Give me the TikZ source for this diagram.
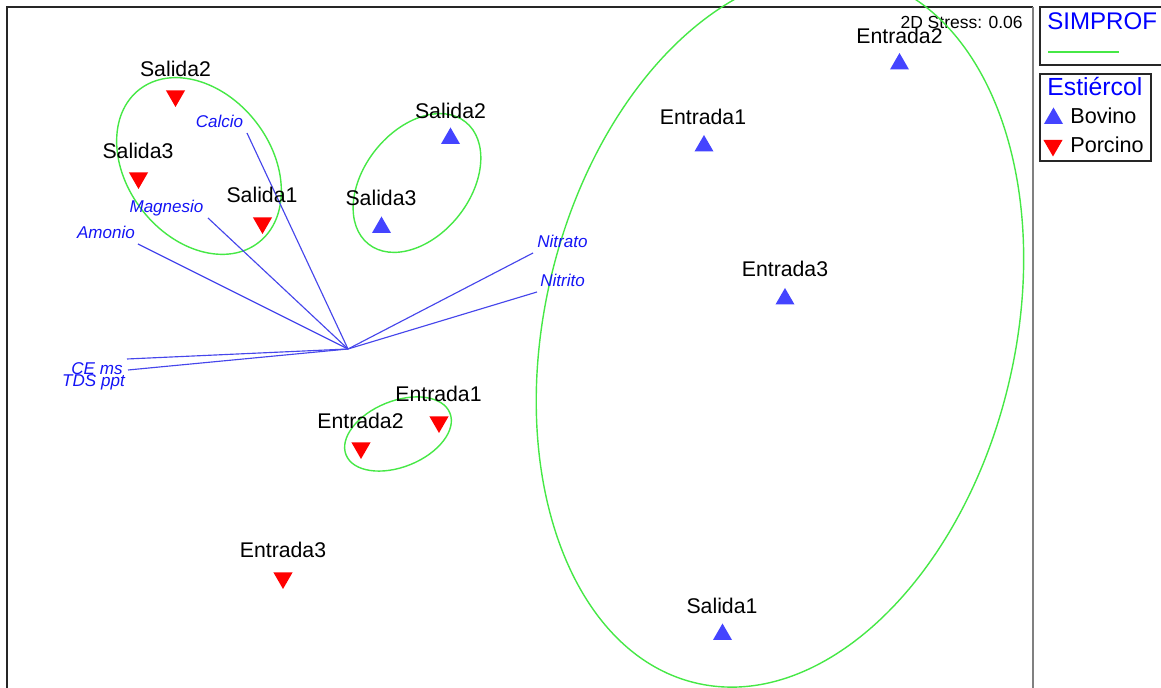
\documentclass[tikz,border=0pt]{standalone}
\usepackage{fontspec}
\setmainfont{Liberation Sans}
\usepackage{tikz}
\usetikzlibrary{shapes.geometric}
\definecolor{bovblue}{RGB}{68,68,255}
\definecolor{simgreen}{RGB}{70,232,70}
\definecolor{vecblue}{RGB}{70,70,235}
\definecolor{labblue}{RGB}{20,20,245}

\begin{document}
\begin{tikzpicture}[x=0.02cm,y=-0.02cm,
  samp/.style={inner sep=0pt,text height=1.38ex,text depth=0pt,font=\fontsize{12.1}{14}\selectfont},
  var/.style={inner sep=0pt,text height=1.38ex,text depth=0pt,text=labblue,font=\fontsize{9.7}{12}\selectfont\itshape},
  bov/.style={regular polygon,regular polygon sides=3,fill=bovblue,inner sep=0pt,minimum size=0.44cm},
  por/.style={bov,fill=red,shape border rotate=180},
  vec/.style={draw=vecblue,line width=0.65pt},
  simprof/.style={draw=simgreen,line width=0.8pt},
  frame/.style={draw=black!85,line width=0.6pt} ]
  \useasboundingbox (0,0) rectangle (1161,688);
  \clip (0,0) rectangle (1161,688);

  % plot frame
  \draw[frame] (7,700) -- (7,7) -- (1033,7);
  \draw[gray,line width=1.1pt] (1033,7) -- (1033,700);
  \node[anchor=east,inner sep=0pt,text height=1.38ex,text depth=0pt,font=\fontsize{9.95}{12}\selectfont] (stress) at (1023,22.5) {2D Stress: 0.06};

  % SIMPROF groups
  \coordinate (g1) at (780,330);
  \coordinate (g2) at (199,166);
  \coordinate (g3) at (417,183);
  \coordinate (g4) at (398,434);
  \draw[simprof,rotate around={-13.5:(g1)}] (g1) ellipse [x radius=4.7cm,y radius=7.26cm];
  \draw[simprof,rotate around={-52:(g2)}] (g2) ellipse [x radius=1.94cm,y radius=1.44cm];
  \draw[simprof,rotate around={51.5:(g3)}] (g3) ellipse [x radius=1.56cm,y radius=1.06cm];
  \draw[simprof,rotate around={22:(g4)}] (g4) ellipse [x radius=1.12cm,y radius=0.66cm];

  % vectors
  \coordinate (o) at (348,349);
  \coordinate (calcio-e) at (247,133);
  \coordinate (magnesio-e) at (208,218);
  \coordinate (amonio-e) at (138,244);
  \coordinate (ce-e) at (127,359);
  \coordinate (tds-e) at (128,370);
  \coordinate (nitrato-e) at (533,253);
  \coordinate (nitrito-e) at (537,292);
  \draw[vec] (o) -- (calcio-e);
  \draw[vec] (o) -- (magnesio-e);
  \draw[vec] (o) -- (amonio-e);
  \draw[vec] (o) -- (ce-e);
  \draw[vec] (o) -- (tds-e);
  \draw[vec] (o) -- (nitrato-e);
  \draw[vec] (o) -- (nitrito-e);
  \node[var] (calcio) at (219.5,121.5) {Calcio};
  \node[var] (magnesio) at (166.5,206) {Magnesio};
  \node[var] (amonio) at (106,232.5) {Amonio};
  \node[var] (ce) at (97,368) {CE ms};
  \node[var] (tds) at (93.5,380) {TDS ppt};
  \node[var] (nitrato) at (562.5,241.5) {Nitrato};
  \node[var] (nitrito) at (562.5,280.5) {Nitrito};

  % Porcino samples
  \node[por] (p-s2) at (175.5,96) {};
  \node[por] (p-s3) at (138.5,178) {};
  \node[por] (p-s1) at (262.5,223) {};
  \node[por] (p-e1) at (439,422) {};
  \node[por] (p-e2) at (361,448) {};
  \node[por] (p-e3) at (283,578) {};
  \node[samp] (p-s2l) at (175.5,70) {Salida2};
  \node[samp] (p-s3l) at (138,152) {Salida3};
  \node[samp] (p-s1l) at (262,196) {Salida1};
  \node[samp] (p-e1l) at (438.5,395) {Entrada1};
  \node[samp] (p-e2l) at (360.5,422) {Entrada2};
  \node[samp] (p-e3l) at (283,551) {Entrada3};

  % Bovino samples
  \node[bov] (b-e2) at (899.5,64) {};
  \node[bov] (b-e1) at (704,146) {};
  \node[bov] (b-e3) at (785,299) {};
  \node[bov] (b-s1) at (722.5,634.5) {};
  \node[bov] (b-s2) at (450.5,138.5) {};
  \node[bov] (b-s3) at (381.5,227.5) {};
  \node[samp] (b-e2l) at (899.5,37) {Entrada2};
  \node[samp] (b-e1l) at (703,118) {Entrada1};
  \node[samp] (b-e3l) at (785,270) {Entrada3};
  \node[samp] (b-s1l) at (722,607) {Salida1};
  \node[samp] (b-s2l) at (450.5,112) {Salida2};
  \node[samp] (b-s3l) at (381,199) {Salida3};

  % legend
  \draw[frame] (1040,7) rectangle (1175,65);
  \node[anchor=west,inner sep=0pt,text height=1.38ex,text depth=0pt,text=blue,font=\fontsize{13.7}{16}\selectfont] (simtitle) at (1047,23) {SIMPROF};
  \coordinate (simkey-a) at (1048,52);
  \coordinate (simkey-b) at (1119,52);
  \draw[simprof] (simkey-a) -- (simkey-b);
  \draw[frame] (1040,74) rectangle (1151,161);
  \node[anchor=west,inner sep=0pt,text height=1.38ex,text depth=0pt,text=blue,font=\fontsize{14.1}{16}\selectfont] (esttitle) at (1047,89) {Estiércol};
  \node[bov] (key-b) at (1053.5,118.5) {};
  \node[por] (key-p) at (1053,145.5) {};
  \node[samp,anchor=west,font=\fontsize{12.3}{14}\selectfont] (key-bl) at (1070,117) {Bovino};
  \node[samp,anchor=west,font=\fontsize{12.3}{14}\selectfont] (key-pl) at (1070,146) {Porcino};
\end{tikzpicture}
\end{document}
